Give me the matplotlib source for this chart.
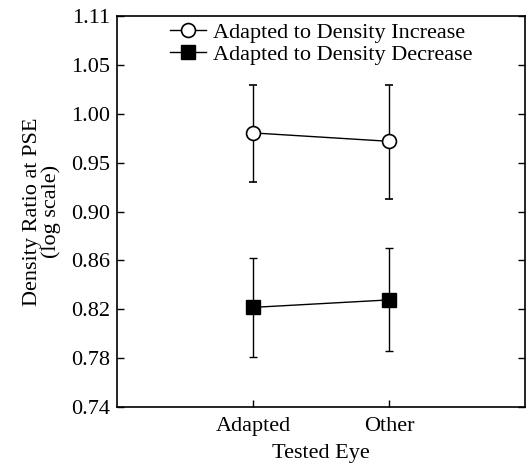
import numpy as np
import matplotlib
matplotlib.use("Agg")
import matplotlib.pyplot as plt
from matplotlib.lines import Line2D

plt.rcParams['font.family'] = ['Liberation Serif', 'DejaVu Serif']

categories = ["Adapted", "Other"]
increase = [0.9806, 0.9722]
increase_lo = [0.933, 0.9166]
increase_hi = [1.0297, 1.0297]
decrease = [0.8203, 0.8266]
decrease_lo = [0.780, 0.7843]
decrease_hi = [0.863, 0.8714]
ytick_vals = [0.74, 0.78, 0.82, 0.86, 0.90, 0.95, 1.00, 1.05, 1.11]
ytick_logs = [-0.30, -0.25, -0.20, -0.15, -0.10, -0.05, 0.0, 0.05, 0.10]
labels = ['Adapted to Density Increase', 'Adapted to Density Decrease']

fig = plt.figure(figsize=(5.27, 4.65), dpi=100)
ax = fig.add_axes([0.222, 0.1247, 0.774, 0.8409])

x = np.arange(1, len(categories) + 1)

def err(v, lo, hi):
    v = np.array(v); return [v - np.array(lo), np.array(hi) - v]

ax.errorbar(x, increase, yerr=err(increase, increase_lo, increase_hi), color='black',
            lw=1, marker='o', ms=10, mfc='white', mec='black', mew=1.2,
            capsize=3, elinewidth=1, capthick=1)
ax.errorbar(x, decrease, yerr=err(decrease, decrease_lo, decrease_hi), color='black',
            lw=1, marker='s', ms=10.5, mfc='black', mec='black',
            capsize=3, elinewidth=1, capthick=1)

ax.set_yscale('log')
ax.set_ylim(np.exp(ytick_logs[0]), np.exp(ytick_logs[-1]))
ax.set_yticks(np.exp(ytick_logs))
ax.set_yticklabels([f"{v:.2f}" for v in ytick_vals])
ax.yaxis.set_minor_locator(matplotlib.ticker.NullLocator())
ax.set_xlim(0, 3)
ax.set_xticks(x)
ax.set_xticklabels(categories)

ax.tick_params(axis='y', direction='in', length=5, width=1, labelsize=16, right=True, pad=5)
ax.tick_params(axis='x', direction='in', length=5, width=1, labelsize=16, pad=7)
for s in ax.spines.values():
    s.set_linewidth(1.2)

ax.set_xlabel('Tested Eye', fontsize=16, labelpad=6)
ax.set_ylabel('Density Ratio at PSE\n(log scale)', fontsize=16, labelpad=7, linespacing=1.0)

handles = [Line2D([], [], color='black', lw=1, marker='o', ms=10, mfc='white', mec='black', mew=1.2),
           Line2D([], [], color='black', lw=1, marker='s', ms=10.5, mfc='black', mec='black')]
leg = ax.legend(handles, labels, loc='upper left', bbox_to_anchor=(0.118, 0.995), frameon=False,
                fontsize=16, handlelength=1.65, handletextpad=0.3,
                labelspacing=0.05, borderaxespad=0.0, borderpad=0.2)

fig.savefig('out.png', dpi=100)
